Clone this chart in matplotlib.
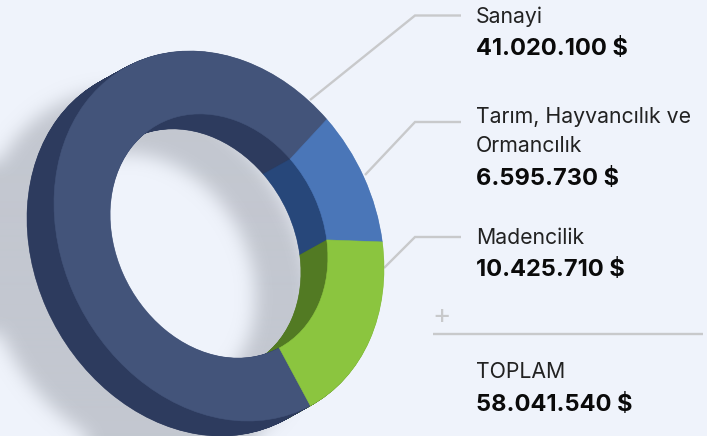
import numpy as np
import matplotlib
matplotlib.use("Agg")
import matplotlib.pyplot as plt
from matplotlib.transforms import Affine2D

categories = ["Sanayi", "Tarım, Hayvancılık ve\nOrmancılık", "Madencilik"]
values = [41020100, 6595730, 10425710]
value_labels = ["41.020.100 $", "6.595.730 $", "10.425.710 $"]
total_label = "TOPLAM"
total_value = "58.041.540 $"

W, H = 707, 436
BG = "#eff3fb"
face_cols = ["#43547a", "#4a76b8", "#8bc53f"]
wall_cols = ["#2d3b5e", "#27477a", "#527a23"]
GRAY = "#c8c9cb"
cx, cy = 219.0, 236.0
hw, hh, skew = 165.0, 185.0, 5365.0
inner = 0.66
depth = (-27.0, 15.0)

Q = np.array([[hw**2, skew], [skew, hh**2]])
ev, vec = np.linalg.eigh(Q)
A = vec @ np.diag(np.sqrt(ev)) @ vec.T
Ainv = np.linalg.inv(A)
u, v = Ainv @ np.array([310.0 - cx, 405.0 - cy])
start = np.degrees(np.arctan2(v, u))

fig = plt.figure(figsize=(W / 100, H / 100), dpi=100, facecolor=BG)
ax = fig.add_axes([0, 0, 1, 1])
ax.set_facecolor(BG)


def transform(dx=0.0, dy=0.0):
    m = np.eye(3)
    m[:2, :2] = A
    m[0, 2] = cx + dx
    m[1, 2] = cy + dy
    return Affine2D(m) + ax.transData


def ring(cols, dx=0.0, dy=0.0, zorder=3):
    wedges, _ = ax.pie(values, colors=cols, startangle=start, counterclock=True,
                       wedgeprops=dict(width=1 - inner, linewidth=0.4))
    for w in wedges:
        w.set_edgecolor(w.get_facecolor())
        w.set_transform(transform(dx, dy))
        w.set_zorder(zorder)


def radius(dx, dy):
    yy, xx = np.mgrid[0:H, 0:W]
    pts = Ainv @ np.vstack([(xx - dx - cx).ravel(), (yy - dy - cy).ravel()])
    return np.hypot(*pts).reshape(H, W)


def blur(mask, k=17, pad=40):
    m = np.pad(mask, pad, mode="edge")
    for _ in range(3):
        for axis in (0, 1):
            c = np.cumsum(np.insert(m, 0, 0, axis=axis), axis=axis)
            hi = np.take(c, np.arange(k, c.shape[axis]), axis=axis)
            lo = np.take(c, np.arange(0, c.shape[axis] - k), axis=axis)
            pw = [(0, 0), (0, 0)]
            pw[axis] = (k // 2, k // 2)
            m = np.pad((hi - lo) / k, pw, mode="edge")
    return m[pad:-pad, pad:-pad]


# soft shadow: a ring seen through the hole, a full disc outside the donut
r = radius(-73, 40)
ring_shadow = blur(((r <= 1.0) & (r >= inner)).astype(float))
disc_shadow = blur((r <= 1.0).astype(float))
alpha = np.where(radius(*depth) < 0.98, ring_shadow, disc_shadow)
rgba = np.zeros((H, W, 4))
rgba[..., :3] = matplotlib.colors.to_rgb("#c3c7d0")
rgba[..., 3] = np.clip(alpha, 0, 1)
ax.imshow(rgba, extent=(0, W, H, 0), zorder=1, interpolation="bilinear", aspect="auto")

# extrusion, back to front
steps = 54
for i in range(steps, 0, -1):
    t = i / steps
    ring(wall_cols, depth[0] * t, depth[1] * t, zorder=2 + (steps - i) * 0.001)
ring(face_cols, zorder=3)

# leader lines and labels
leaders = [([310, 100, 415, 461], [100, 15.5, 15.5, 15.5]),
           ([365, 175, 415, 461], [175, 122, 122, 122]),
           ([384, 268, 415, 461], [268, 237, 237, 237])]
for lx, ly in leaders:
    ax.plot([lx[0], lx[2], lx[3]], [ly[0], ly[1], ly[3]], color=GRAY, lw=1.7, zorder=1.5,
            solid_joinstyle="miter", solid_capstyle="butt")
ax.plot([433, 703], [334, 334], color=GRAY, lw=1.7, zorder=1.5, solid_capstyle="butt")
ax.text(442, 315.5, "+", color=GRAY, fontsize=20, ha="center", va="center", family="Inter")

TX = 476
name_kw = dict(color="#222222", fontsize=15.3, family="Inter", fontweight="normal", va="baseline", ha="left")
val_kw = dict(color="#0a0a0a", fontsize=17.0, family="Inter", fontweight="bold", va="baseline", ha="left")
ax.text(TX, 23, "Sanayi", **name_kw)
ax.text(TX, 55, value_labels[0], **val_kw)
first, second = categories[1].split("\n")
ax.text(TX, 123, first, **name_kw)
ax.text(TX, 152, second, **name_kw)
ax.text(TX, 185, value_labels[1], **val_kw)
ax.text(TX, 244, categories[2], **name_kw)
ax.text(TX, 276, value_labels[2], **val_kw)
ax.text(TX, 378, total_label, **name_kw)
ax.text(TX, 411, total_value, **val_kw)

ax.set_aspect("auto")
ax.set_xlim(0, W)
ax.set_ylim(H, 0)
ax.axis("off")
fig.savefig("out.png", dpi=100, facecolor=BG)
